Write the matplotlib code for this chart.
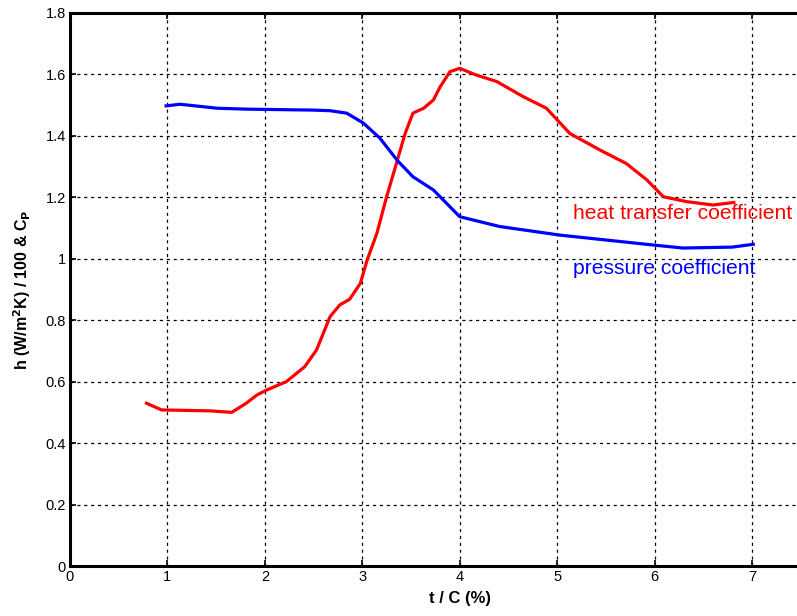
import matplotlib
matplotlib.use("Agg")
import matplotlib.pyplot as plt

plt.rcParams['font.family'] = ['Liberation Sans', 'DejaVu Sans']

# pressure coefficient (blue)
cp_x = [0.97, 1.13, 1.51, 1.82, 2.49, 2.67, 2.84, 3.01, 3.18, 3.36, 3.52, 3.73, 4.0, 4.41, 5.03, 5.98, 6.29, 6.80, 7.03]
cp_y = [1.497, 1.503, 1.49, 1.487, 1.484, 1.482, 1.474, 1.442, 1.393, 1.32, 1.267, 1.224, 1.137, 1.105, 1.077, 1.045, 1.035, 1.038, 1.048]

# heat transfer coefficient / 100 (red)
h_x = [0.77, 0.94, 1.44, 1.66, 1.81, 1.92, 2.02, 2.22, 2.41, 2.53, 2.67, 2.77, 2.87, 2.98, 3.05, 3.15,
       3.25, 3.35, 3.44, 3.52, 3.63, 3.73, 3.80, 3.90, 4.0, 4.17, 4.38, 4.65, 4.89, 5.13, 5.44, 5.71,
       5.92, 6.09, 6.33, 6.60, 6.83]
h_y = [0.532, 0.508, 0.505, 0.50, 0.53, 0.557, 0.573, 0.60, 0.649, 0.703, 0.812, 0.85, 0.868, 0.92, 0.996, 1.083,
       1.202, 1.31, 1.408, 1.474, 1.49, 1.517, 1.56, 1.609, 1.62, 1.598, 1.577, 1.528, 1.49, 1.408, 1.354, 1.31,
       1.257, 1.202, 1.186, 1.175, 1.184]

x_ticks = [0, 1, 2, 3, 4, 5, 6, 7]
y_ticks = [0, 0.2, 0.4, 0.6, 0.8, 1.0, 1.2, 1.4, 1.6, 1.8]
y_ticklabels = ['0', '0.2', '0.4', '0.6', '0.8', '1', '1.2', '1.4', '1.6', '1.8']

fig = plt.figure(figsize=(7.97, 6.16), dpi=100)
ax = fig.add_axes([70/797, 50/616, 779.4/797, 553/616])

ax.plot(h_x, h_y, color='#ff0000', lw=2.3, solid_capstyle='butt')
ax.plot(cp_x, cp_y, color='#0000ff', lw=2.3, solid_capstyle='butt')

ax.set_xlim(0, 8)
ax.set_ylim(0, 1.8)
ax.set_xticks(x_ticks)
ax.set_xticklabels([str(v) for v in x_ticks], fontsize=10.5)
ax.set_yticks(y_ticks)
ax.set_yticklabels(y_ticklabels, fontsize=10.5)
ax.tick_params(direction='in', top=True, right=True, length=4, width=1.2, pad=3)
ax.grid(True, color='black', linestyle=(0, (2.5, 3)), linewidth=0.9)
for s in ax.spines.values():
    s.set_linewidth(2.2)

ax.set_xlabel('t / C (%)', fontsize=12, fontweight='bold', labelpad=5)
ax.set_ylabel(r'h (W/m$^\mathbf{2}$K) / 100 & C$_\mathbf{P}$', fontsize=11.5, fontweight='bold', labelpad=9)

ax.text(5.16, 1.149, 'heat transfer coefficient', color='#ff0000', fontsize=15.2, va='center', ha='left')
ax.text(5.16, 0.967, 'pressure coefficient', color='#0000ff', fontsize=15.2, va='center', ha='left')

fig.savefig('out.png', dpi=100)
